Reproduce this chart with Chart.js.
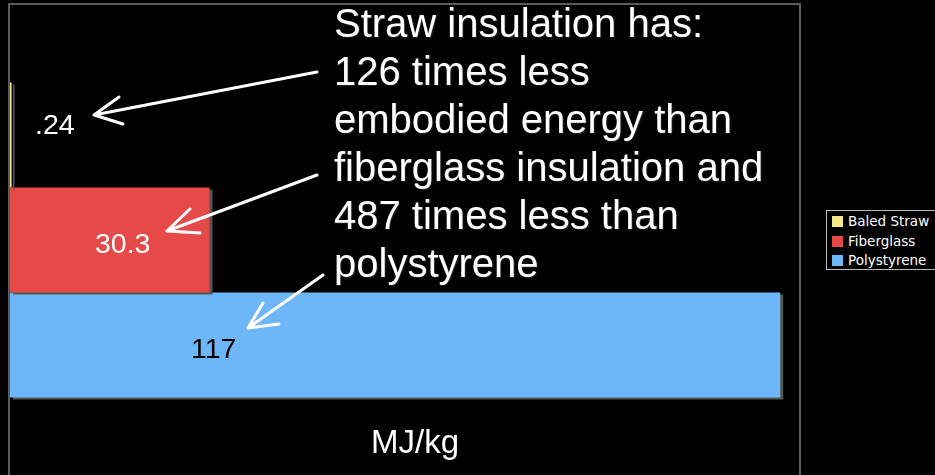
<!DOCTYPE html>
<html>
<head>
<meta charset="utf-8">
<script src="https://cdn.jsdelivr.net/npm/chart.js@4/dist/chart.umd.min.js"></script>
<style>
  html, body { margin: 0; padding: 0; background: #000; overflow: hidden; }
  #wrap { position: relative; width: 935px; height: 475px; }
  #note {
    position: absolute; left: 334px; top: -1px;
    color: #fff; font: 40px "Liberation Sans", Arial, sans-serif; line-height: 48px;
    white-space: pre; text-shadow: 1px 1px 1px #222;
  }
  #legend {
    position: absolute; left: 826px; top: 210px; width: 120px; height: 60px;
    border: 1px solid #bbb; background: #000; box-sizing: border-box;
    font: 13.5px "DejaVu Sans", Verdana, sans-serif; color: #fff;
  }
  .row { position: absolute; left: 5px; height: 15px; line-height: 15px; }
  .sw { display: inline-block; width: 11px; height: 11px; vertical-align: -1px; margin-right: 5px; }
</style>
</head>
<body>
<div id="wrap">
  <canvas id="chart" width="935" height="475"></canvas>
  <div id="note"></div>
  <div id="legend"></div>
</div>
<script>
// Chart values
const categories = [''];
const seriesNames = ['Baled Straw', 'Fiberglass', 'Polystyrene'];
const seriesValues = [0.24, 30.3, 117];
const valueLabels = ['.24', '30.3', '117'];
const seriesColors = ['#F4E88A', '#E54A48', '#6DB6F8'];
const labelColors = ['#fff', '#fff', '#000'];
const unitLabel = 'MJ/kg';
const noteLines = [
  'Straw insulation has:',
  '126 times less',
  'embodied energy than',
  'fiberglass insulation and',
  '487 times less than',
  'polystyrene'
];

// Build the datasets, one per material
const datasets = seriesNames.map((name, i) => ({
  label: name,
  data: [seriesValues[i]],
  backgroundColor: seriesColors[i],
  borderWidth: 0
}));

// Frame round the plot and drop shadow behind the bars
const framePlugin = {
  id: 'frame',
  beforeDatasetsDraw(chart) {
    const { ctx, chartArea: a } = chart;
    ctx.save();
    ctx.strokeStyle = '#5c5c5c';
    ctx.lineWidth = 2;
    ctx.beginPath();
    ctx.moveTo(a.left - 1, a.bottom + 5);
    ctx.lineTo(a.left - 1, a.top - 1);
    ctx.lineTo(a.right, a.top - 1);
    ctx.lineTo(a.right, a.bottom + 5);
    ctx.stroke();
    ctx.restore();
    ctx.save();
    ctx.shadowColor = '#555';
    ctx.shadowOffsetX = 3;
    ctx.shadowOffsetY = 2;
    ctx.shadowBlur = 0;
  },
  afterDatasetsDraw(chart) {
    chart.ctx.restore();
  }
};

// Value labels inside the bars, the unit under them, and the arrows
const labelPlugin = {
  id: 'labels',
  afterDraw(chart, args, opts) {
    const { ctx, chartArea: a } = chart;
    ctx.save();
    ctx.font = '28.5px "Liberation Sans", Arial, sans-serif';
    ctx.textBaseline = 'middle';
    ctx.textAlign = 'left';
    chart.data.datasets.forEach((ds, i) => {
      const bar = chart.getDatasetMeta(i).data[0];
      ctx.fillStyle = labelColors[i];
      ctx.fillText(valueLabels[i], a.left + opts.dx[i], bar.y + opts.dy[i]);
    });
    ctx.fillStyle = '#fff';
    ctx.textAlign = 'center';
    ctx.font = '33px "Liberation Sans", Arial, sans-serif';
    ctx.textBaseline = 'alphabetic';
    ctx.fillText(unitLabel, 415, 453);

    ctx.strokeStyle = '#fff';
    ctx.lineWidth = 3;
    ctx.lineCap = 'round';
    ctx.lineJoin = 'round';
    opts.arrows.forEach(([x1, y1, x2, y2, w1x, w1y, w2x, w2y]) => {
      ctx.beginPath();
      ctx.moveTo(x1, y1);
      ctx.lineTo(x2, y2);
      ctx.moveTo(w1x, w1y);
      ctx.lineTo(x2, y2);
      ctx.lineTo(w2x, w2y);
      ctx.stroke();
    });
    ctx.restore();
  }
};

new Chart(document.getElementById('chart'), {
  type: 'bar',
  data: { labels: categories, datasets },
  plugins: [framePlugin, labelPlugin],
  options: {
    indexAxis: 'y',
    responsive: false,
    animation: false,
    devicePixelRatio: 1,
    categoryPercentage: 0.67,
    barPercentage: 1,
    layout: { padding: { left: 10, right: 135, top: 5, bottom: 0 } },
    scales: {
      x: { display: false, min: 0, max: 120 },
      y: { display: false }
    },
    plugins: {
      legend: { display: false },
      tooltip: { enabled: false },
      labels: {
        dx: [25, 85, 181],
        dy: [-9, 5, 5],
        arrows: [
          [317, 72, 94, 115, 119, 97, 123, 124],
          [317, 175, 167, 231, 190, 209, 200, 233],
          [323, 275, 248, 328, 263, 303, 279, 324]
        ]
      }
    }
  }
});

// Annotation text and legend as HTML
document.getElementById('note').textContent = noteLines.join('\n');
const legend = document.getElementById('legend');
seriesNames.forEach((name, i) => {
  const row = document.createElement('div');
  row.className = 'row';
  row.style.top = (3 + i * 19.5) + 'px';
  const sw = document.createElement('span');
  sw.className = 'sw';
  sw.style.background = seriesColors[i];
  row.append(sw, document.createTextNode(name));
  legend.appendChild(row);
});
</script>
</body>
</html>
